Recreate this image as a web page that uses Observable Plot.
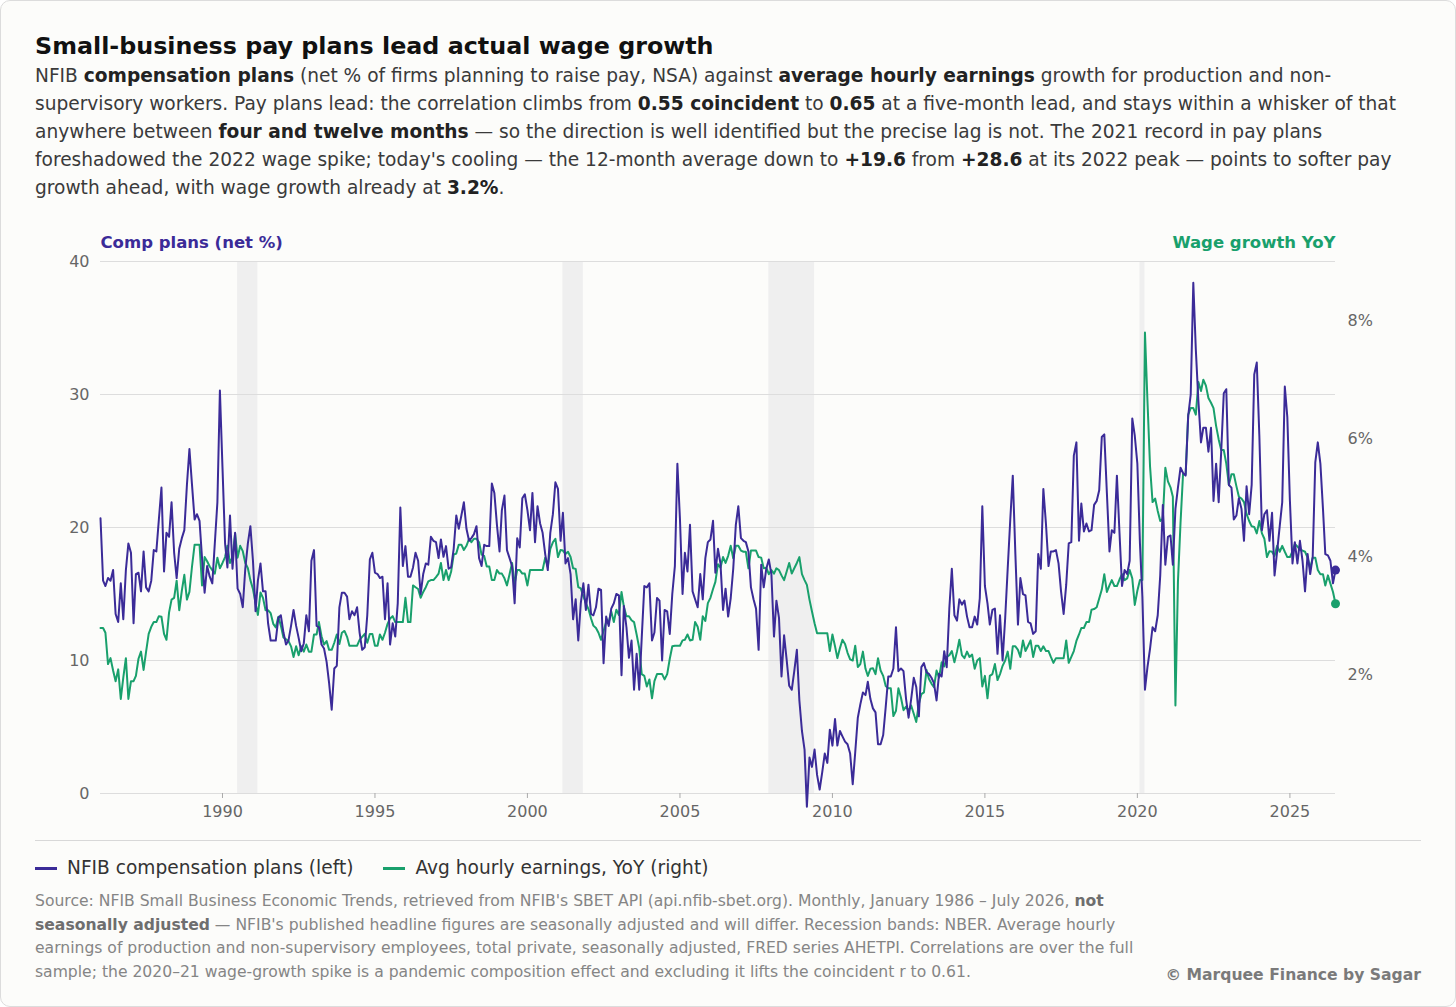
<!DOCTYPE html>
<html>
<head>
<meta charset="utf-8">
<script src="https://cdn.jsdelivr.net/npm/d3@7"></script>
<script src="https://cdn.jsdelivr.net/npm/@observablehq/plot@0.6"></script>
<style>
  html, body { margin: 0; padding: 0; background: #ffffff; }
  body { font-family: "DejaVu Sans", sans-serif; }
  .card {
    width: 1456px; height: 1007px; box-sizing: border-box;
    border: 1px solid #dcdcdc; border-radius: 10px; background: #fcfcfa;
    padding: 30px 34px 0 34px; position: relative;
  }
  h1 { margin: 0; font-size: 23.8px; line-height: 30px; font-weight: bold; color: #111; }
  .sub { margin: 1px 0 0 0; font-size: 18.6px; line-height: 28px; color: #3a3a3a; }
  .sub b { color: #222; }
  #chart { margin-top: 13px; height: 615px; }
  .sep { border-top: 1px solid #d8d8d8; margin-top: 10px; }
  .legend { display: flex; align-items: center; margin-top: 15px; font-size: 18.6px; line-height: 24px; color: #333; }
  .legend .item { display: flex; align-items: center; margin-right: 30px; }
  .legend .sw { width: 22px; height: 3px; margin-right: 10px; }
  .foot { display: flex; justify-content: space-between; align-items: flex-end; margin-top: 10px; }
  .src { max-width: 1160px; font-size: 15.6px; line-height: 23.5px; color: #858585; }
  .src b { color: #6e6e6e; }
  .copy { font-size: 15.6px; font-weight: bold; color: #7a7a7a; line-height: 23.5px; white-space: nowrap; position: relative; top: 3px; }
</style>
</head>
<body>
<div class="card">
  <h1>Small-business pay plans lead actual wage growth</h1>
  <div class="sub">NFIB <b>compensation plans</b> (net % of firms planning to raise pay, NSA) against <b>average hourly earnings</b> growth for production and non-supervisory workers. Pay plans lead: the correlation climbs from <b>0.55 coincident</b> to <b>0.65</b> at a five-month lead, and stays within a whisker of that anywhere between <b>four and twelve months</b> — so the direction is well identified but the precise lag is not. The 2021 record in pay plans foreshadowed the 2022 wage spike; today's cooling — the 12-month average down to <b>+19.6</b> from <b>+28.6</b> at its 2022 peak — points to softer pay growth ahead, with wage growth already at <b>3.2%</b>.</div>
  <div id="chart"></div>
  <div class="sep"></div>
  <div class="legend">
    <div class="item"><div class="sw" style="background:#3b2b98"></div>NFIB compensation plans (left)</div>
    <div class="item"><div class="sw" style="background:#19a06c"></div>Avg hourly earnings, YoY (right)</div>
  </div>
  <div class="foot">
    <div class="src">Source: NFIB Small Business Economic Trends, retrieved from NFIB's SBET API (api.nfib-sbet.org). Monthly, January 1986 – July 2026, <b>not seasonally adjusted</b> — NFIB's published headline figures are seasonally adjusted and will differ. Recession bands: NBER. Average hourly earnings of production and non-supervisory employees, total private, seasonally adjusted, FRED series AHETPI. Correlations are over the full sample; the 2020–21 wage-growth spike is a pandemic composition effect and excluding it lifts the coincident r to 0.61.</div>
    <div class="copy">© Marquee Finance by Sagar</div>
  </div>
</div>
<script>
// Monthly series starting January 1986
const startYear = 1986;
const compPlans = [
  20.7, 16.0, 15.6, 16.2, 16.0, 16.8, 13.5, 12.9, 15.8, 13.1, 16.8, 18.8,
  18.1, 12.8, 16.5, 16.6, 15.2, 18.2, 15.5, 15.2, 16.0, 18.3, 18.2, 20.6,
  23.0, 16.7, 19.6, 19.3, 21.9, 18.1, 16.2, 18.4, 19.2, 19.8, 23.2, 25.9,
  23.2, 20.6, 21.0, 20.5, 17.7, 15.1, 17.1, 16.3, 15.8, 18.8, 21.9, 30.3,
  24.5, 18.8, 17.0, 20.9, 16.9, 19.6, 15.4, 15.0, 14.0, 16.9, 18.8, 20.1,
  17.5, 13.7, 16.0, 17.3, 15.2, 15.2, 12.8, 11.5, 11.5, 11.5, 13.2, 13.4,
  12.1, 11.2, 11.5, 12.6, 13.8, 12.6, 11.7, 10.7, 11.3, 13.4, 12.2, 17.5,
  18.3, 12.6, 12.5, 11.2, 10.9, 9.9, 8.3, 6.3, 9.4, 9.6, 14.0, 15.1,
  15.1, 14.8, 13.1, 13.7, 13.4, 14.0, 12.1, 10.8, 11.0, 13.4, 17.6, 18.1,
  16.6, 16.5, 16.2, 16.3, 13.1, 15.8, 11.2, 12.8, 11.8, 14.3, 21.5, 17.1,
  18.6, 16.3, 16.3, 17.0, 18.1, 17.5, 15.0, 16.5, 17.3, 17.2, 19.3, 19.0,
  18.9, 17.7, 19.1, 17.8, 18.6, 16.9, 17.0, 18.4, 20.9, 19.9, 20.9, 21.9,
  19.9, 19.0, 19.2, 19.5, 20.1, 17.7, 17.1, 18.7, 18.6, 18.6, 23.3, 22.6,
  20.2, 18.2, 21.3, 22.4, 18.3, 17.7, 17.1, 14.3, 19.2, 18.5, 22.2, 22.5,
  21.3, 19.8, 22.6, 18.9, 21.6, 20.3, 19.6, 18.0, 16.8, 19.6, 21.0, 23.4,
  22.9, 19.0, 21.1, 17.3, 17.7, 16.5, 13.1, 14.6, 11.5, 14.3, 15.8, 13.8,
  15.7, 13.5, 13.4, 14.0, 15.4, 15.3, 9.8, 13.3, 12.6, 13.9, 14.3, 15.0,
  14.9, 8.9, 14.1, 12.5, 10.2, 11.5, 7.8, 10.5, 7.8, 11.7, 15.6, 15.5,
  15.8, 11.5, 12.1, 14.7, 14.5, 10.0, 13.8, 13.7, 12.0, 15.0, 17.1, 24.8,
  20.6, 15.0, 18.1, 16.7, 20.2, 15.2, 14.6, 14.0, 16.5, 14.6, 17.7, 18.9,
  19.1, 20.5, 16.6, 18.4, 17.3, 13.8, 15.4, 13.3, 14.7, 16.9, 20.2, 21.6,
  19.2, 19.0, 18.9, 18.2, 15.5, 14.6, 13.9, 10.8, 17.2, 15.5, 16.9, 17.6,
  16.5, 11.8, 14.5, 13.2, 8.8, 11.9, 10.1, 8.1, 7.8, 9.2, 10.8, 7.0,
  4.7, 3.3, -1.0, 2.7, 2.0, 3.3, 1.4, 0.3, 1.6, 3.0, 2.3, 4.8,
  3.6, 5.6, 3.6, 4.7, 4.3, 3.9, 3.7, 3.0, 0.7, 3.1, 5.7, 6.7,
  7.6, 7.4, 8.4, 7.1, 6.4, 6.1, 3.7, 3.7, 4.4, 6.5, 8.8, 8.8,
  9.4, 12.5, 9.2, 9.4, 9.2, 7.1, 5.7, 7.1, 8.7, 8.0, 5.8, 9.5,
  9.8, 9.1, 9.0, 8.7, 8.3, 7.0, 9.0, 8.8, 10.7, 9.5, 13.9, 16.9,
  13.4, 13.0, 14.6, 14.2, 14.5, 13.3, 12.5, 12.5, 13.3, 12.7, 14.7, 21.6,
  15.6, 14.3, 12.7, 13.8, 13.9, 10.5, 13.4, 10.0, 13.2, 16.9, 20.6, 23.9,
  18.0, 12.7, 16.2, 15.0, 14.9, 12.9, 12.8, 12.0, 12.2, 18.0, 16.9, 22.9,
  20.3, 17.1, 18.2, 18.2, 18.3, 17.3, 15.2, 13.5, 15.7, 18.8, 18.9, 25.4,
  26.4, 19.0, 21.8, 19.7, 20.3, 19.7, 19.8, 21.7, 22.0, 22.8, 26.8, 27.0,
  22.6, 18.2, 19.8, 19.6, 23.9, 19.6, 15.6, 16.8, 16.5, 17.5, 28.2, 26.9,
  24.8, 18.8, 14.8, 7.8, 9.5, 10.9, 12.5, 12.2, 13.4, 16.4, 21.7, 17.2,
  19.3, 19.4, 17.2, 21.4, 23.0, 24.5, 24.1, 23.9, 28.4, 30.0, 38.4, 33.4,
  29.5, 26.4, 27.5, 27.5, 25.7, 27.5, 22.0, 24.8, 21.9, 25.7, 30.1, 30.4,
  23.2, 23.0, 20.6, 20.9, 22.2, 21.4, 19.0, 23.1, 21.0, 23.2, 31.5, 32.4,
  26.9, 19.8, 21.0, 21.3, 19.0, 21.1, 16.4, 18.2, 20.1, 21.9, 30.6, 28.3,
  22.0, 17.3, 18.9, 17.3, 19.0, 17.5, 15.2, 18.0, 16.5, 17.8, 24.9, 26.4,
  24.8, 21.4, 18.0, 17.9, 17.5, 15.8, 16.8
];
const wageYoY = [
  2.8, 2.8, 2.72, 2.19, 2.29, 2.08, 1.9, 2.1, 1.6, 1.96, 2.29, 1.6,
  1.9, 1.9, 1.99, 2.28, 2.4, 2.09, 2.4, 2.7, 2.82, 2.9, 2.9, 3.0,
  2.99, 2.7, 2.6, 3.06, 3.28, 3.31, 3.6, 3.1, 3.43, 3.7, 3.28, 3.41,
  3.84, 4.21, 4.21, 4.21, 3.52, 4.0, 3.93, 3.84, 3.78, 3.72, 3.99, 3.81,
  3.9, 4.0, 4.19, 3.9, 4.0, 4.4, 3.99, 4.19, 4.1, 3.9, 3.81, 3.61,
  3.46, 3.22, 3.02, 3.4, 3.31, 3.1, 3.1, 3.05, 2.87, 2.81, 2.99, 2.84,
  2.64, 2.61, 2.58, 2.49, 2.31, 2.49, 2.34, 2.49, 2.4, 2.52, 2.4, 2.4,
  2.69, 2.69, 2.9, 2.66, 2.52, 2.58, 2.43, 2.43, 2.55, 2.69, 2.53, 2.72,
  2.75, 2.65, 2.5, 2.5, 2.5, 2.5, 2.6, 2.65, 2.7, 2.55, 2.7, 2.7,
  2.5, 2.5, 2.69, 2.6, 2.72, 2.87, 2.96, 3.0, 2.9, 2.9, 2.9, 2.9,
  3.31, 2.9, 2.9, 3.52, 3.49, 3.46, 3.31, 3.41, 3.49, 3.59, 3.61, 3.61,
  3.66, 3.72, 3.9, 3.61, 3.78, 3.61, 3.75, 4.04, 4.06, 4.21, 4.21, 4.12,
  4.19, 4.31, 4.25, 4.31, 4.31, 4.25, 4.04, 4.02, 3.84, 3.84, 3.61, 3.61,
  3.78, 3.72, 3.72, 3.64, 3.52, 3.71, 3.9, 3.55, 3.78, 3.78, 3.72, 3.72,
  3.52, 3.78, 3.78, 3.78, 3.78, 3.78, 3.78, 3.99, 3.84, 4.14, 4.25, 4.31,
  4.0, 4.12, 4.11, 4.05, 4.09, 4.0, 3.81, 3.8, 3.49, 3.47, 3.34, 3.22,
  3.12, 2.96, 2.84, 2.8, 2.72, 2.6, 2.75, 2.9, 2.9, 3.08, 2.9, 3.11,
  3.02, 3.41, 3.16, 3.0, 3.0, 2.93, 2.9, 2.69, 2.46, 2.02, 1.99, 1.81,
  1.93, 1.61, 1.9, 2.02, 2.02, 2.02, 1.93, 2.02, 2.28, 2.49, 2.5, 2.5,
  2.5, 2.59, 2.6, 2.69, 2.59, 2.6, 2.9, 2.82, 2.6, 3.0, 2.92, 3.22,
  3.31, 3.46, 3.58, 3.88, 3.82, 4.0, 3.9, 4.02, 4.19, 3.98, 4.19, 4.19,
  4.11, 4.09, 4.09, 3.81, 4.11, 4.11, 4.11, 4.0, 3.99, 3.81, 3.82, 3.71,
  3.78, 3.72, 3.81, 3.78, 3.69, 3.61, 3.75, 3.9, 3.72, 3.81, 3.9, 4.0,
  3.71, 3.61, 3.53, 3.28, 3.08, 2.88, 2.71, 2.71, 2.71, 2.71, 2.71, 2.41,
  2.69, 2.49, 2.29, 2.46, 2.6, 2.53, 2.38, 2.27, 2.25, 2.5, 2.14, 2.19,
  2.4, 2.11, 1.99, 2.11, 2.12, 2.02, 2.29, 2.08, 1.99, 1.82, 1.78, 1.78,
  1.31, 1.4, 1.78, 1.62, 1.41, 1.47, 1.4, 1.49, 1.35, 1.21, 1.52, 1.68,
  1.71, 2.09, 1.94, 1.86, 1.8, 2.08, 1.96, 2.22, 2.15, 2.31, 2.34, 2.41,
  2.22, 2.4, 2.6, 2.34, 2.29, 2.4, 2.31, 2.35, 2.11, 2.25, 2.29, 1.81,
  1.99, 1.61, 1.99, 2.02, 2.19, 1.92, 2.02, 2.16, 2.25, 2.4, 2.11, 2.49,
  2.49, 2.43, 2.31, 2.59, 2.41, 2.5, 2.59, 2.31, 2.5, 2.5, 2.41, 2.49,
  2.41, 2.41, 2.31, 2.21, 2.29, 2.29, 2.29, 2.29, 2.59, 2.21, 2.31, 2.41,
  2.58, 2.69, 2.8, 2.8, 2.9, 2.9, 3.11, 3.12, 3.15, 3.3, 3.45, 3.71,
  3.41, 3.52, 3.61, 3.51, 3.51, 3.62, 3.71, 3.61, 3.64, 3.78, 3.64, 3.19,
  3.43, 3.61, 3.61, 7.8, 6.64, 5.53, 4.93, 4.99, 4.78, 4.61, 4.65, 5.51,
  5.28, 5.18, 5.02, 1.49, 3.58, 4.58, 5.4, 5.4, 6.41, 6.52, 6.52, 6.41,
  6.96, 6.81, 7.0, 6.9, 6.69, 6.61, 6.52, 6.22, 5.99, 5.81, 5.81, 5.58,
  5.22, 5.4, 5.4, 5.2, 5.02, 4.99, 4.93, 4.73, 4.61, 4.52, 4.51, 4.4,
  4.61, 4.4, 4.31, 4.0, 4.1, 4.09, 4.02, 4.19, 4.09, 4.19, 4.09, 4.0,
  4.0, 4.1, 4.22, 4.18, 4.12, 4.11, 4.09, 3.99, 3.81, 3.99, 3.99, 3.78,
  3.71, 3.71, 3.52, 3.69, 3.55, 3.41, 3.21
];
const recessionStarts = ["1990-07", "2001-03", "2007-12", "2020-02"];
const recessionEnds   = ["1991-03", "2001-11", "2009-06", "2020-04"];
const leftTicks = [0, 10, 20, 30, 40];
const rightTicks = [2, 4, 6, 8];
const xTickYears = [1990, 1995, 2000, 2005, 2010, 2015, 2020, 2025];
const leftMax = 40, rightMax = 9;

const INDIGO = "#3b2b98", GREEN = "#19a06c";
const k = leftMax / rightMax;
const parseM = d3.utcParse("%Y-%m");
const rows = compPlans.map((v, i) => ({
  date: new Date(Date.UTC(startYear, i, 1)),
  comp: v,
  wage: wageYoY[i]
}));
const recessions = recessionStarts.map((s, i) => ({start: parseM(s), end: parseM(recessionEnds[i])}));
const last = rows[rows.length - 1];

const chart = Plot.plot({
  width: 1386,
  height: 615,
  marginLeft: 65,
  marginRight: 86,
  marginTop: 46,
  marginBottom: 37,
  style: {fontFamily: "DejaVu Sans, sans-serif", fontSize: "16px", background: "transparent", color: "#666", overflow: "visible"},
  x: {type: "utc", domain: [rows[0].date, last.date]},
  y: {domain: [0, leftMax]},
  marks: [
    Plot.rect(recessions, {x1: "start", x2: "end", fill: "#efefef"}),
    Plot.gridY(leftTicks, {stroke: "#dddddd", strokeOpacity: 1, strokeWidth: 1}),
    Plot.axisY(leftTicks, {anchor: "left", tickSize: 0, tickPadding: 11, label: null, fill: "#666", fontSize: 16}),
    Plot.axisY(rightTicks.map(v => v * k), {anchor: "right", tickSize: 0, tickPadding: 12, label: null, fill: "#666", fontSize: 16, tickFormat: d => `${Math.round(d / k)}%`}),
    Plot.axisX(xTickYears.map(y => new Date(Date.UTC(y, 0, 1))), {anchor: "bottom", tickSize: 5, tickPadding: 7, stroke: "#aaa", fill: "#666", label: null, tickFormat: d3.utcFormat("%Y"), fontSize: 16}),
    Plot.line(rows, {x: "date", y: d => d.wage * k, stroke: GREEN, strokeWidth: 2, curve: "linear"}),
    Plot.line(rows, {x: "date", y: "comp", stroke: INDIGO, strokeWidth: 2, curve: "linear"}),
    Plot.dot([last], {x: "date", y: d => d.wage * k, r: 4.5, fill: GREEN}),
    Plot.dot([last], {x: "date", y: "comp", r: 4.5, fill: INDIGO}),
    Plot.text(["Comp plans (net %)"], {frameAnchor: "top-left", lineAnchor: "middle", dy: -19, textAnchor: "start", fill: INDIGO, fontWeight: "bold", fontSize: 16.5}),
    Plot.text(["Wage growth YoY"], {frameAnchor: "top-right", lineAnchor: "middle", dy: -19, textAnchor: "end", fill: GREEN, fontWeight: "bold", fontSize: 16.5})
  ]
});
document.getElementById("chart").appendChild(chart);
</script>
</body>
</html>
